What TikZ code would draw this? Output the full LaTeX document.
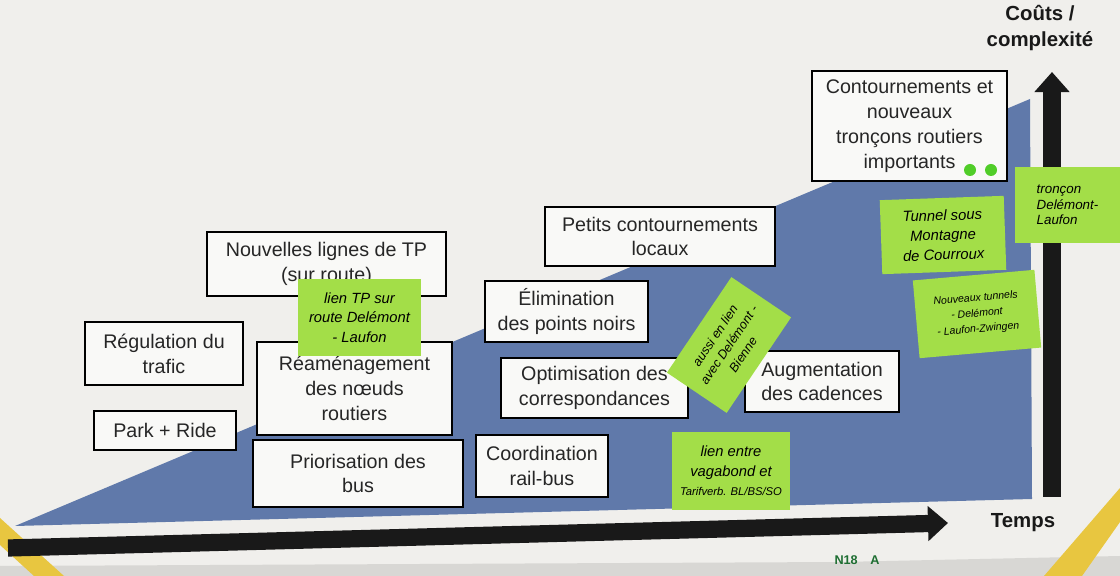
\documentclass[tikz,border=0pt]{standalone}
\usepackage{fontspec}
\setmainfont{Liberation Sans}
\usepackage{tikz}
\usetikzlibrary{arrows.meta, positioning, shapes}

\definecolor{paper}{RGB}{240,239,236}
\definecolor{slope}{RGB}{96,121,170}
\definecolor{postit}{RGB}{163,222,72}
\definecolor{tape}{RGB}{232,198,64}
\definecolor{dotgreen}{RGB}{80,205,40}
\definecolor{marker}{RGB}{30,110,50}

\begin{document}
\begin{tikzpicture}[
    x=0.025cm, y=-0.025cm,
    box/.style={draw=black, line width=1.3pt, fill=white!60!paper, align=center,
                inner sep=0pt, text=black!85,
                font=\fontsize{14}{17.7}\selectfont},
    note/.style={fill=postit, align=center, inner sep=2pt,
                 font=\fontsize{10.5}{14}\selectfont\itshape},
    axis/.style={line width=0.43cm, black!90, -{Triangle[length=0.5cm, width=0.85cm]}},
    axlab/.style={font=\fontsize{14.5}{19}\selectfont\bfseries, align=center, text=black!90},
    dot/.style={circle, fill=dotgreen, inner sep=0pt, minimum size=0.3cm}
]
\useasboundingbox (0,0) rectangle (1120,576);

% Poster background, tape in the corners
\fill[paper] (0,0) rectangle (1120,576);
\fill[black!10!paper] (0,566) -- (840,562) -- (1120,556) -- (1120,576) -- (0,576) -- cycle;
\fill[tape] (0,518) -- (0,545) -- (34,576) -- (64,576) -- cycle;
\fill[tape] (1120,488) -- (1120,522) -- (1082,576) -- (1044,576) -- cycle;

% Rising cost area
\fill[slope] (15,526) -- (1030,99) -- (1032,499) -- cycle;

% Axes
\coordinate (t0) at (8,548);
\coordinate (t1) at (948,523);
\coordinate (c0) at (1052,497);
\coordinate (c1) at (1052,72);
\draw[axis] (t0) -- (t1);
\draw[axis] (c0) -- (c1);
\node[axlab] (temps) at (1023,523) {Temps};
\node[axlab] (couts) at (1040,28) {Coûts /\\complexité};

% Measures, from cheap and quick to costly and long
\node[box, minimum width=3.55cm, minimum height=0.98cm] (parkride)   at (165,430.5) {Park + Ride};
\node[box, minimum width=3.95cm, minimum height=1.58cm] (regul)      at (164,353.5) {Régulation du\\trafic};
\node[box, minimum width=5.98cm, minimum height=1.6cm]  (lignestp)   at (326.5,264) {Nouvelles lignes de TP\\(sur route)};
\node[box, minimum width=4.88cm, minimum height=2.33cm] (reamen)     at (354.5,388.5) {Réaménagement\\des nœuds\\routiers};
\node[box, minimum width=5.25cm, minimum height=1.68cm] (priorbus)   at (358,473.5) {Priorisation des\\bus};
\node[box, minimum width=3.3cm,  minimum height=1.55cm] (coordrb)    at (542,466) {Coordination\\rail-bus};
\node[box, minimum width=4.08cm, minimum height=1.53cm] (elimpn)     at (566.5,311.5) {Élimination\\des points noirs};
\node[box, minimum width=5.75cm, minimum height=1.48cm] (petitscont) at (660,236.5) {Petits contournements\\locaux};
\node[box, minimum width=4.68cm, minimum height=1.5cm]  (optcorr)    at (594.5,388) {Optimisation des\\correspondances};
\node[box, minimum width=3.85cm, minimum height=1.53cm] (augcad)     at (822,381.5) {Augmentation\\des cadences};
\node[box, minimum width=4.88cm, minimum height=2.75cm] (grandscont) at (909.5,126) {Contournements et\\nouveaux\\tronçons routiers\\importants};

% Two green dots on the big box
\node[dot] (dot1) at (970,170) {};
\node[dot] (dot2) at (991,170) {};

% Sticky notes
\node[note, minimum width=3.08cm, minimum height=1.93cm] (notetp) at (359.5,317.5)
    {lien TP sur\\route Delémont\\- Laufon};
\node[note, minimum width=2.88cm, minimum height=1.8cm, rotate=56,
      font=\fontsize{9}{12}\selectfont\itshape] (notebienne) at (729,345)
    {aussi en lien\\avec Delémont -\\Bienne};
\node[note, minimum width=2.95cm, minimum height=1.95cm] (notetarif) at (731,471)
    {lien entre\\vagabond et\\{\fontsize{8}{10}\selectfont Tarifverb. BL/BS/SO}};
\node[note, minimum width=3.1cm, minimum height=1.85cm, rotate=2] (notetunnel) at (943,235)
    {Tunnel sous\\Montagne\\de Courroux};
\node[note, minimum width=3.05cm, minimum height=1.95cm, rotate=5,
      font=\fontsize{7.5}{11}\selectfont\itshape] (notenouv) at (977,314)
    {Nouveaux tunnels\\- Delémont\\- Laufon-Zwingen};
\node[note, minimum width=2.63cm, minimum height=1.9cm, align=left,
      font=\fontsize{9.5}{11}\selectfont\itshape] (notetroncon) at (1067.5,205)
    {tronçon\\Delémont-\\Laufon};

% Marker label under the time axis
\node[text=marker, font=\fontsize{9}{10}\selectfont\bfseries] (label) at (857,560) {N18\quad A};

\end{tikzpicture}
\end{document}
